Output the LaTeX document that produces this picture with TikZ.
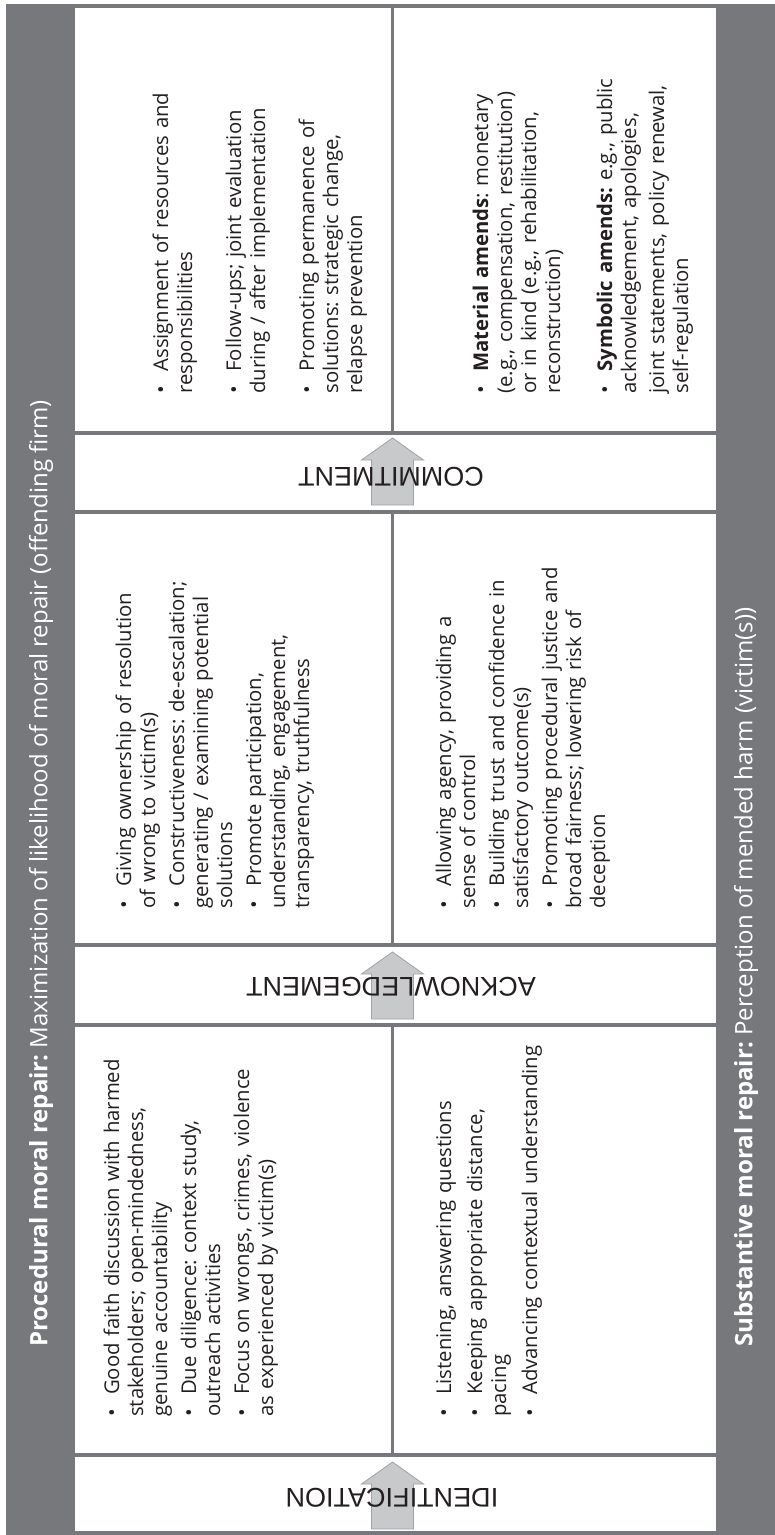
\documentclass[tikz,border=0pt]{standalone}
\usepackage{fontspec}
\setmainfont{Open Sans}
\newfontfamily\labelfont{Liberation Sans}
\definecolor{framegray}{RGB}{119,120,124}
\definecolor{arrowfill}{RGB}{200,201,203}
\definecolor{arrowline}{RGB}{160,162,165}
\definecolor{ink}{RGB}{35,31,32}
\frenchspacing
\hyphenpenalty=10000
\exhyphenpenalty=10000
\newcommand\bitem[1]{\par\noindent\hangindent=22pt\hangafter=1\makebox[22pt][l]{\rule{0pt}{16pt}\textbullet}#1}
\tikzset{
  cell/.style={rotate=90, anchor=north west, inner sep=0pt, text width=390pt, align=left,
    font=\fontsize{20.3}{24}\selectfont, text=ink, execute at begin node={\setlength{\parskip}{#1}}},
  phase/.style={rotate=180, inner sep=0pt, font=\labelfont\fontsize{27}{27}\selectfont, text=ink},
  band/.style={rotate=90, anchor=west, inner sep=0pt, font=\fontsize{24}{28}\selectfont, text=white},
  divider/.style={draw=framegray, line width=4pt},
  vdivider/.style={draw=framegray, line width=3.5pt},
  blockarrow/.style={fill=arrowfill, draw=arrowline, line width=0.8pt},
  pics/uparrow/.style={code={\path[blockarrow] (0,0) -- (-31,22) -- (-21,22) -- (-21,67) -- (21,67) -- (21,22) -- (31,22) -- cycle;}}
}
\begin{document}
\begin{tikzpicture}[x=1pt,y=-1pt]
\useasboundingbox (0,0) rectangle (775,1535);
% frame
\fill[framegray] (6,4) rectangle (775,1535);
\fill[white] (75,8) rectangle (716,1531);
% dividers
\foreach \yy in {432.5,512,945,1025,1455} \draw[divider] (75,\yy) -- (716,\yy);
\draw[vdivider] (392.5,8) -- (392.5,432.5);
\draw[vdivider] (392.5,512) -- (392.5,945);
\draw[vdivider] (392.5,1025) -- (392.5,1455);
% band texts
\node[band] (proc) at (41,1347) {\textbf{Procedural moral repair:} Maximization of likelihood of moral repair (offending firm)};
\node[band] (subs) at (746,1347) {\textbf{Substantive moral repair:} Perception of mended harm (victim(s))};
% arrows
\pic at (392.5,438) {uparrow};
\pic at (392.5,952) {uparrow};
\pic at (392.5,1462) {uparrow};
% phase labels
\node[phase] (com) at (391,477) {COMMITMENT};
\node[phase] (ack) at (391,987) {ACKNOWLEDGEMENT};
\node[phase] (ide) at (392,1498) {IDENTIFICATION};
% commitment cells
\node[cell=25pt] (tl) at (119,393.7) {\bitem{Assignment of resources and\\responsibilities}\bitem{Follow-ups; joint evaluation\\during / after implementation}\bitem{Promoting permanence of\\solutions: strategic change,\\relapse prevention}};
\node[cell=28pt] (tr) at (436,393.7) {\bitem{\textbf{Material amends}: monetary\\(e.g., compensation, restitution)\\or in kind (e.g., rehabilitation,\\reconstruction)}\bitem{\textbf{Symbolic amends:} e.g., public\\acknowledgement, apologies,\\[4pt]joint statements, policy renewal,\\self-regulation}};
% acknowledgement cells
\node[cell=5pt] (al) at (102,908.7) {\bitem{Giving ownership of resolution\\of wrong to victim(s)}\bitem{Constructiveness: de-escalation;\\generating / examining potential\\solutions}\bitem{Promote participation,\\understanding, engagement,\\transparency, truthfulness}};
\node[cell=5pt] (ar) at (422,908.7) {\bitem{Allowing agency, providing a\\sense of control}\bitem{Building trust and confidence in\\satisfactory outcome(s)}\bitem{Promoting procedural justice and\\broad fairness; lowering risk of\\deception}};
% identification cells
\node[cell=5pt] (il) at (90,1417) {\bitem{Good faith discussion with harmed\\stakeholders; open-mindedness,\\genuine accountability}\bitem{Due diligence: context study,\\outreach activities}\bitem{Focus on wrongs, crimes, violence\\as experienced by victim(s)}};
\node[cell=7pt] (ir) at (420,1417) {\bitem{Listening, answering questions}\bitem{Keeping appropriate distance,\\pacing}\bitem{Advancing contextual understanding}};
\end{tikzpicture}
\end{document}
